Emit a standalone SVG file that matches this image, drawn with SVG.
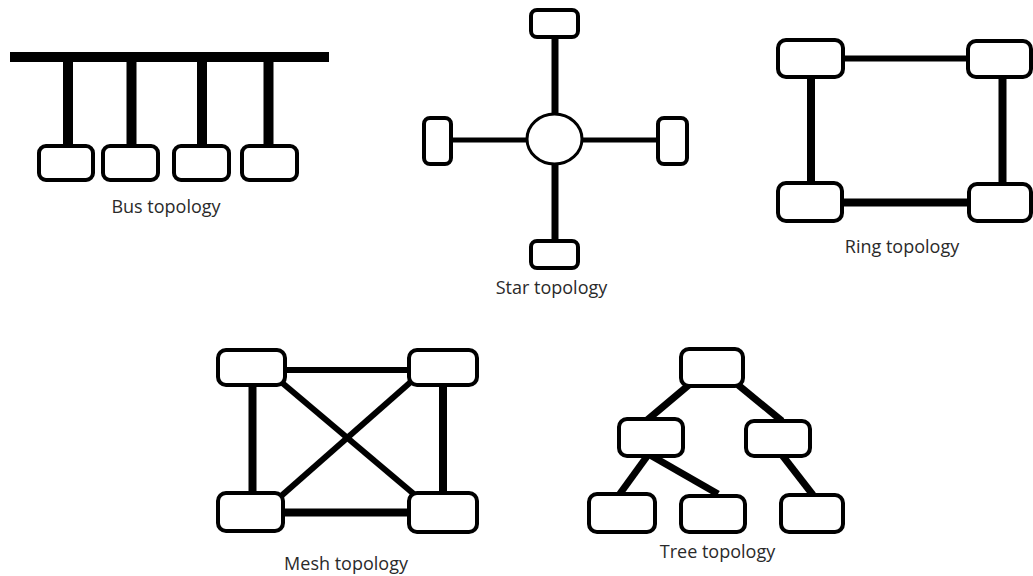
<svg xmlns="http://www.w3.org/2000/svg" width="1033" height="576" viewBox="0 0 1033 576">
  <style>
    .node { fill: #ffffff; stroke: #000000; stroke-width: 4; }
    .hub { fill: #ffffff; stroke: #000000; stroke-width: 3; }
    .link { stroke: #000000; stroke-linecap: butt; fill: none; }
    .label { font-family: "Open Sans", "Liberation Sans", sans-serif; font-size: 18px; fill: #2a2a2a; text-anchor: middle; }
  </style>
  <rect width="1033" height="576" fill="#ffffff"/>

  <!-- connectors -->
  <g id="connectors">
    <!-- bus backbone and drops -->
    <line class="link" x1="10" y1="57" x2="329" y2="57" stroke-width="10"/>
    <line class="link" x1="68" y1="57" x2="68" y2="147" stroke-width="10"/>
    <line class="link" x1="131.5" y1="57" x2="131.5" y2="147" stroke-width="10"/>
    <line class="link" x1="202" y1="57" x2="202" y2="147" stroke-width="10"/>
    <line class="link" x1="268.5" y1="57" x2="268.5" y2="147" stroke-width="10"/>
    <!-- star spokes -->
    <line class="link" x1="555" y1="37" x2="555" y2="114" stroke-width="7"/>
    <line class="link" x1="555" y1="163" x2="555" y2="240" stroke-width="7"/>
    <line class="link" x1="451" y1="140" x2="527" y2="140" stroke-width="5"/>
    <line class="link" x1="582" y1="140" x2="657" y2="140" stroke-width="5"/>
    <!-- ring -->
    <line class="link" x1="843" y1="58.5" x2="967" y2="58.5" stroke-width="6"/>
    <line class="link" x1="811" y1="77" x2="811" y2="182" stroke-width="8"/>
    <line class="link" x1="1002.5" y1="77" x2="1002.5" y2="183" stroke-width="8"/>
    <line class="link" x1="842" y1="202.5" x2="968" y2="202.5" stroke-width="8"/>
    <!-- mesh -->
    <line class="link" x1="285" y1="370" x2="408" y2="370" stroke-width="6"/>
    <line class="link" x1="252.5" y1="385" x2="252.5" y2="492" stroke-width="8"/>
    <line class="link" x1="443" y1="385" x2="443" y2="492" stroke-width="8"/>
    <line class="link" x1="283" y1="512.5" x2="408" y2="512.5" stroke-width="8"/>
    <line class="link" x1="280" y1="381" x2="415" y2="495" stroke-width="6"/>
    <line class="link" x1="413" y1="380" x2="280" y2="497" stroke-width="6"/>
    <!-- tree -->
    <line class="link" x1="690" y1="384" x2="646" y2="421" stroke-width="7"/>
    <line class="link" x1="737" y1="384" x2="782" y2="421" stroke-width="7"/>
    <line class="link" x1="648" y1="455" x2="619" y2="495" stroke-width="7"/>
    <line class="link" x1="650" y1="455" x2="718" y2="494" stroke-width="7"/>
    <line class="link" x1="782" y1="455" x2="813" y2="495" stroke-width="7"/>
  </g>

  <!-- bus topology -->
  <g id="bus">
    <rect id="bus-n1" class="node" x="39" y="146" width="54" height="34" rx="7"/>
    <rect id="bus-n2" class="node" x="103" y="146" width="55" height="34" rx="7"/>
    <rect id="bus-n3" class="node" x="174" y="146" width="55" height="34" rx="7"/>
    <rect id="bus-n4" class="node" x="242" y="146" width="55" height="34" rx="7"/>
    <text class="label" x="166" y="213">Bus topology</text>
  </g>

  <!-- star topology -->
  <g id="star">
    <ellipse id="star-hub" class="hub" cx="554.5" cy="139" rx="27.5" ry="25"/>
    <rect id="star-top" class="node" x="531" y="10" width="47" height="27" rx="6"/>
    <rect id="star-left" class="node" x="424" y="118" width="27" height="46" rx="6"/>
    <rect id="star-right" class="node" x="658" y="118" width="29" height="46" rx="6"/>
    <rect id="star-bottom" class="node" x="531" y="241" width="47" height="27" rx="6"/>
    <text class="label" x="551.5" y="294">Star topology</text>
  </g>

  <!-- ring topology -->
  <g id="ring">
    <rect id="ring-tl" class="node" x="778" y="40" width="65" height="37" rx="8"/>
    <rect id="ring-tr" class="node" x="968" y="41" width="63" height="36" rx="8"/>
    <rect id="ring-bl" class="node" x="778" y="183" width="64" height="38" rx="8"/>
    <rect id="ring-br" class="node" x="969" y="184" width="62" height="37" rx="8"/>
    <text class="label" x="902" y="253">Ring topology</text>
  </g>

  <!-- mesh topology -->
  <g id="mesh">
    <rect id="mesh-tl" class="node" x="218" y="350" width="67" height="35" rx="8"/>
    <rect id="mesh-tr" class="node" x="409" y="350" width="68" height="35" rx="8"/>
    <rect id="mesh-bl" class="node" x="218" y="493" width="65" height="38" rx="8"/>
    <rect id="mesh-br" class="node" x="409" y="493" width="68" height="39" rx="8"/>
    <text class="label" x="346" y="570">Mesh topology</text>
  </g>

  <!-- tree topology -->
  <g id="tree">
    <rect id="tree-root" class="node" x="681" y="349" width="62" height="37" rx="8"/>
    <rect id="tree-ml" class="node" x="619" y="419" width="64" height="37" rx="8"/>
    <rect id="tree-mr" class="node" x="746" y="421" width="64" height="35" rx="8"/>
    <rect id="tree-bl" class="node" x="589" y="494" width="66" height="38" rx="8"/>
    <rect id="tree-bm" class="node" x="681" y="496" width="64" height="36" rx="8"/>
    <rect id="tree-br" class="node" x="781" y="495" width="62" height="37" rx="8"/>
    <text class="label" x="717.5" y="558">Tree topology</text>
  </g>
</svg>
